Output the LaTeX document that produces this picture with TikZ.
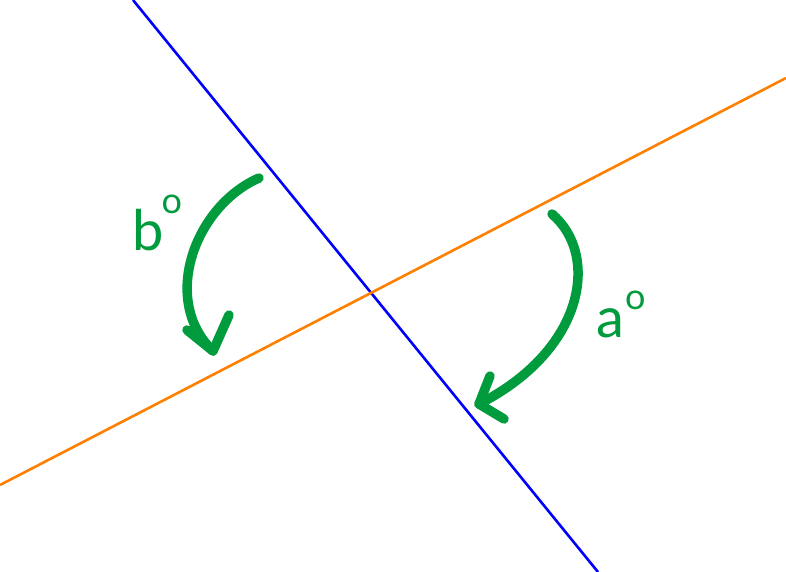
\documentclass[tikz,border=0pt]{standalone}
\usepackage{fontspec}
\setmainfont{Lato}
\definecolor{lineblue}{RGB}{0,0,255}
\definecolor{lineorange}{RGB}{255,128,0}
\definecolor{arrowgreen}{RGB}{0,155,60}
\newcommand{\dego}[2]{\hspace{#1}\raisebox{#2}{\fontsize{36}{36}\selectfont o}}
\begin{document}
\begin{tikzpicture}[x=1pt,y=-1pt,
  geoline/.style={line width=2.6pt},
  turnarrow/.style={draw=arrowgreen,line width=9.5pt,line cap=round,line join=round},
  anglelabel/.style={text=arrowgreen,inner sep=0pt,anchor=base west,font=\fontsize{56}{56}\selectfont}]
\useasboundingbox (0,0) rectangle (786,572);
\fill[white] (0,0) rectangle (786,572);
% lines
\coordinate (blueA) at (133,0);
\coordinate (blueB) at (598,572);
\coordinate (orangeA) at (0,485);
\coordinate (orangeB) at (786,78);
\draw[geoline,lineblue] (blueA) -- (blueB);
\draw[geoline,lineorange] (orangeA) -- (orangeB);
% arrow b
\coordinate (bs) at (259,178);
\coordinate (bt) at (213,351);
\coordinate (bw1) at (187,330);
\coordinate (bw2) at (229,315);
\draw[turnarrow] (bs) .. controls (195,206) and (160,300) .. (bt);
\draw[turnarrow] (bw1) -- (bt) -- (bw2);
% arrow a
\coordinate (as) at (552,214);
\coordinate (at2) at (479,404);
\coordinate (aw1) at (490,376);
\coordinate (aw2) at (504,419);
\draw[turnarrow] (as) .. controls (600,255) and (585,350) .. (at2);
\draw[turnarrow] (aw1) -- (at2) -- (aw2);
% labels
\node[anglelabel] (lb) at (132,250.5) {b\dego{-2pt}{37pt}};
\node[anglelabel] (la) at (596,337.5) {a\dego{1pt}{28pt}};
\end{tikzpicture}
\end{document}
